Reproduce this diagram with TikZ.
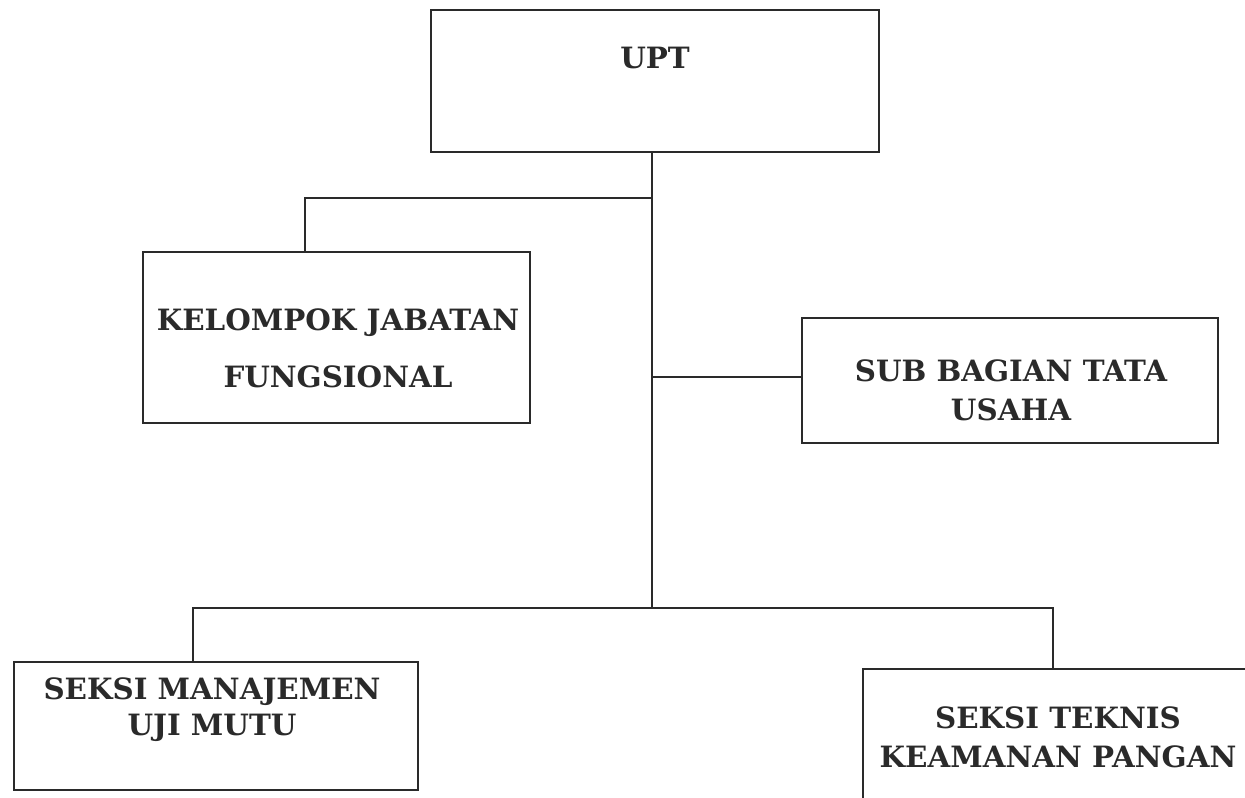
\documentclass[tikz,border=0pt]{standalone}
\usepackage{fontspec}
\newfontfamily\boxfont{DejaVu Serif}
\definecolor{ink}{HTML}{2A2A2A}
\tikzset{
  orgbox/.style={draw=ink, line width=0.9pt, rectangle, inner sep=0pt},
  orgtext/.style={text=ink, align=center, inner sep=0pt, font=\boxfont\bfseries\fontsize{16.7}{#1}\selectfont},
  orgtext/.default=21,
  link/.style={draw=ink, line width=0.8pt}
}
\begin{document}
\begin{tikzpicture}[x=0.02cm, y=-0.02cm]
\path[use as bounding box] (0,0) rectangle (1245,798);
\clip (0,0) rectangle (1245,798);
% boxes
\node[orgbox, minimum width=8.96cm, minimum height=2.84cm] (upt) at (655,81) {};
\node[orgbox, minimum width=7.74cm, minimum height=3.42cm] (kjf) at (336.5,337.5) {};
\node[orgbox, minimum width=8.32cm, minimum height=2.5cm] (sbtu) at (1010,380.5) {};
\node[orgbox, minimum width=8.08cm, minimum height=2.56cm] (smum) at (216,726) {};
\node[orgbox, minimum width=7.8cm, minimum height=3.22cm] (stkp) at (1058,749.5) {};
% texts
\node[orgtext] (upt-t) at (655,58) {UPT};
\node[orgtext=32.5] (kjf-t) at (338,348) {KELOMPOK JABATAN\\FUNGSIONAL};
\node[orgtext=22] (sbtu-t) at (1011,390) {SUB BAGIAN TATA\\USAHA};
\node[orgtext=20.5] (smum-t) at (212,710) {SEKSI MANAJEMEN\\UJI MUTU};
\node[orgtext=22] (stkp-t) at (1058,737) {SEKSI TEKNIS\\KEAMANAN PANGAN};
% junctions
\coordinate (j1) at (652,198);
\coordinate (j2) at (652,377);
\coordinate (j3) at (652,608);
\coordinate (k) at (305,198);
\coordinate (bl) at (193,608);
\coordinate (br) at (1053,608);
% connectors
\draw[link] (upt.south -| j1) -- (j3);
\draw[link] (j1) -- (k) -- (k |- kjf.north);
\draw[link] (j2) -- (j2 -| sbtu.west);
\draw[link] (bl |- smum.north) -- (bl) -- (br) -- (br |- stkp.north);
\end{tikzpicture}
\end{document}
